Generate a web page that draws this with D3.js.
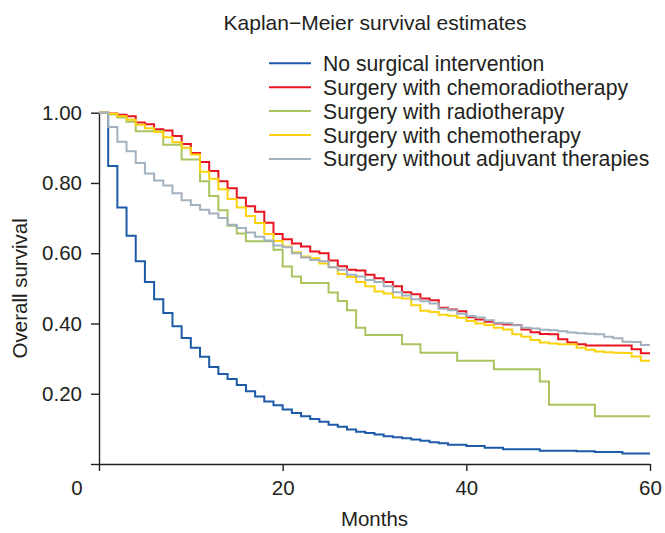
<!DOCTYPE html>
<html>
<head>
<meta charset="utf-8">
<script src="https://cdn.jsdelivr.net/npm/d3@7"></script>
<style>
body { margin: 0; background: #fff; }
text { font-family: "Liberation Sans", Arial, sans-serif; fill: #231f20; }
</style>
</head>
<body>
<script>
// survival at the start of each month 0..60 (step after)
var months = d3.range(0, 61)

var noSurgery = [1.0, 0.848, 0.73, 0.65, 0.577, 0.518, 0.469, 0.43, 0.392, 0.359,
	0.331, 0.305, 0.276, 0.256, 0.242, 0.225, 0.207, 0.192, 0.178, 0.167,
	0.155, 0.145, 0.136, 0.128, 0.12, 0.112, 0.106, 0.098, 0.092, 0.088,
	0.084, 0.079, 0.076, 0.073, 0.07, 0.066, 0.062, 0.059, 0.055, 0.055,
	0.051, 0.051, 0.046, 0.046, 0.042, 0.042, 0.042, 0.042, 0.038, 0.038,
	0.038, 0.038, 0.036, 0.036, 0.034, 0.034, 0.034, 0.030, 0.030, 0.030, 0.030]

var chemoRadio = [1.0, 0.998, 0.994, 0.99, 0.972, 0.967, 0.953, 0.949, 0.934, 0.911,
	0.885, 0.86, 0.834, 0.805, 0.785, 0.758, 0.734, 0.718, 0.687, 0.655,
	0.64, 0.628, 0.619, 0.605, 0.60, 0.579, 0.563, 0.553, 0.551, 0.539,
	0.529, 0.518, 0.506, 0.489, 0.483, 0.471, 0.466, 0.445, 0.44, 0.435,
	0.418, 0.411, 0.405, 0.40, 0.397, 0.396, 0.383, 0.375, 0.37, 0.369,
	0.355, 0.346, 0.341, 0.337, 0.337, 0.337, 0.337, 0.337, 0.327, 0.315, 0.315]

var radio = [1.0, 0.995, 0.986, 0.974, 0.947, 0.947, 0.947, 0.909, 0.909, 0.867,
	0.867, 0.805, 0.763, 0.722, 0.678, 0.656, 0.634, 0.634, 0.634, 0.61,
	0.562, 0.534, 0.515, 0.515, 0.515, 0.488, 0.464, 0.438, 0.388, 0.367,
	0.367, 0.367, 0.367, 0.341, 0.341, 0.317, 0.317, 0.317, 0.317, 0.294,
	0.294, 0.294, 0.294, 0.27, 0.27, 0.27, 0.27, 0.27, 0.235, 0.169,
	0.169, 0.169, 0.169, 0.169, 0.136, 0.136, 0.136, 0.136, 0.136, 0.136, 0.136]

var chemo = [1.0, 0.997, 0.99, 0.98, 0.966, 0.956, 0.945, 0.93, 0.916, 0.90,
	0.881, 0.832, 0.812, 0.782, 0.754, 0.73, 0.706, 0.686, 0.655, 0.635,
	0.619, 0.603, 0.591, 0.586, 0.571, 0.56, 0.541, 0.532, 0.518, 0.506,
	0.491, 0.485, 0.474, 0.471, 0.452, 0.436, 0.433, 0.425, 0.422, 0.416,
	0.407, 0.40, 0.396, 0.388, 0.383, 0.369, 0.362, 0.353, 0.346, 0.343,
	0.341, 0.341, 0.331, 0.325, 0.32, 0.318, 0.317, 0.316, 0.306, 0.294, 0.294]

var noAdjuvant = [1.0, 0.959, 0.917, 0.89, 0.857, 0.827, 0.807, 0.793, 0.771, 0.751,
	0.737, 0.724, 0.713, 0.70, 0.681, 0.672, 0.659, 0.647, 0.636, 0.622,
	0.617, 0.60, 0.588, 0.581, 0.577, 0.56, 0.553, 0.539, 0.534, 0.524,
	0.518, 0.506, 0.489, 0.48, 0.469, 0.463, 0.457, 0.442, 0.438, 0.428,
	0.421, 0.417, 0.409, 0.402, 0.401, 0.395, 0.388, 0.386, 0.382, 0.381,
	0.378, 0.374, 0.372, 0.371, 0.369, 0.362, 0.358, 0.348, 0.347, 0.339, 0.339]

var groupNames = ["No surgical intervention", "Surgery with chemoradiotherapy",
	"Surgery with radiotherapy", "Surgery with chemotherapy", "Surgery without adjuvant therapies"]
var groupValues = [noSurgery, chemoRadio, radio, chemo, noAdjuvant]
var groupColors = ["#1d5ba8", "#e8141f", "#a9c35e", "#fcd20f", "#a2b1bf"]

var xTicks = [0, 20, 40, 60]
var yTicks = [0, 0.2, 0.4, 0.6, 0.8, 1.0]

var width = 665, height = 533
var ink = "#231f20"

var svg = d3.select("body")
	.append("svg")
	.attr("width", width)
	.attr("height", height);

var x = d3.scaleLinear().domain([0, 60]).range([99, 650])
var y = d3.scaleLinear().domain([0, 1]).range([464, 112.7])

// title
svg.append("text")
	.attr("x", 375)
	.attr("y", 30)
	.attr("text-anchor", "middle")
	.style("font-size", "21px")
	.text("Kaplan\u2212Meier survival estimates");

// y axis
var yAxis = svg.append("g")
	.attr("transform", "translate(" + x(0) + ",0)")
	.call(d3.axisLeft(y)
		.tickValues(yTicks)
		.tickSize(8)
		.tickSizeOuter(0)
		.tickPadding(9)
		.tickFormat(function(d) { return d == 0 ? "" : d3.format(".2f")(d) }));

// x axis
var xAxis = svg.append("g")
	.attr("transform", "translate(0," + y(0) + ")")
	.call(d3.axisBottom(x)
		.tickValues(xTicks)
		.tickSize(7)
		.tickSizeOuter(0)
		.tickPadding(9)
		.tickFormat(function(d) { return d == 0 ? "" : d }));

svg.selectAll(".domain, .tick line")
	.attr("stroke", ink)
	.attr("stroke-width", 1.4);

svg.selectAll(".tick text")
	.attr("fill", ink)
	.style("font-family", "'Liberation Sans', Arial, sans-serif")
	.style("font-size", "20.5px");

// the zero label sits off to the left of its tick
svg.append("text")
	.attr("x", x(0) - 22)
	.attr("y", 495)
	.attr("text-anchor", "middle")
	.style("font-size", "20.5px")
	.text("0");

svg.append("text")
	.attr("transform", "translate(27," + y(0.5) + ") rotate(-90)")
	.attr("text-anchor", "middle")
	.style("font-size", "20.5px")
	.text("Overall survival");

svg.append("text")
	.attr("x", (x(0) + x(60)) / 2)
	.attr("y", 526)
	.attr("text-anchor", "middle")
	.style("font-size", "20.5px")
	.text("Months");

// curves
var line = d3.line()
	.x(function(d, i) { return x(months[i]) })
	.y(function(d) { return y(d) })
	.curve(d3.curveStepAfter)

svg.selectAll(".km")
	.data(groupValues)
	.enter()
	.append("path")
	.attr("class", "km")
	.attr("fill", "none")
	.attr("stroke", function(d, i) { return groupColors[i] })
	.attr("stroke-width", 2)
	.attr("d", line);

// legend
var legend = svg.selectAll(".legend")
	.data(groupNames)
	.enter()
	.append("g")
	.attr("class", "legend")
	.attr("transform", function(d, i) { return "translate(269," + (63.3 + i * 23.9) + ")" });

legend.append("line")
	.attr("x1", 0)
	.attr("x2", 42)
	.attr("stroke", function(d, i) { return groupColors[i] })
	.attr("stroke-width", 2);

legend.append("text")
	.attr("x", 54)
	.attr("y", 7.5)
	.style("font-size", "21.2px")
	.text(function(d) { return d });
</script>
</body>
</html>
